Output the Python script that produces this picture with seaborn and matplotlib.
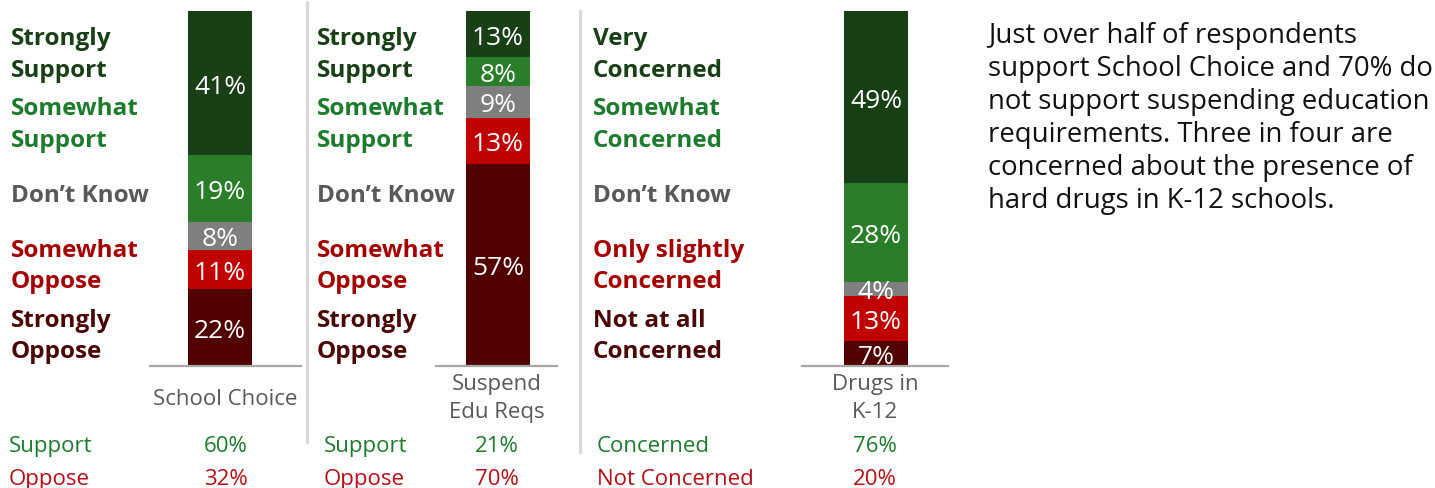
import numpy as np
import pandas as pd
import matplotlib
matplotlib.use("Agg")
import matplotlib.pyplot as plt
from matplotlib.lines import Line2D
import seaborn as sns

# ---------------- data ----------------
questions = ["School Choice", "Suspend\nEdu Reqs", "Drugs in\nK-12"]
segments = ["Strongly Support", "Somewhat Support", "Don't Know",
            "Somewhat Oppose", "Strongly Oppose"]          # top -> bottom
school_choice = [41, 19, 8, 11, 22]
suspend_edu = [13, 8, 9, 13, 57]
drugs_k12 = [49, 28, 4, 13, 7]
panel_values = [school_choice, suspend_edu, drugs_k12]

support_scale = ["Strongly\nSupport", "Somewhat\nSupport", "Don’t Know",
                 "Somewhat\nOppose", "Strongly\nOppose"]
concern_scale = ["Very\nConcerned", "Somewhat\nConcerned", "Don’t Know",
                 "Only slightly\nConcerned", "Not at all\nConcerned"]
panel_scales = [support_scale, support_scale, concern_scale]

summary_names = [["Support", "Oppose"], ["Support", "Oppose"],
                 ["Concerned", "Not Concerned"]]
summary_values = [[60, 32], [21, 70], [76, 20]]

paragraph = ["Just over half of respondents",
             "support School Choice and 70% do",
             "not support suspending education",
             "requirements. Three in four are",
             "concerned about the presence of",
             "hard drugs in K-12 schools."]

# ---------------- style ----------------
bar_colors = ["#183F16", "#2A7E2A", "#7F7F7F", "#C00000", "#510000"]
label_colors = ["#183F16", "#1E7B2E", "#595959", "#A50000", "#4B0707"]
summary_colors = ["#1E7B2E", "#B40F17"]

sns.set_theme(style="white")
plt.rcParams["font.family"] = ["Open Sans", "DejaVu Sans"]

W, H = 1435, 489
fig = plt.figure(figsize=(W / 100, H / 100), dpi=100)


def fx(px):
    return px / W


def fy(py):
    return 1 - py / H


# layout per panel (pixels)
base_left = [150, 436, 802]
base_right = [301, 557, 948]
bar_center = [220, 498, 876]
bar_w = 64
bar_top, bar_bot = 12, 367
label_x = [11, 317, 593]
summary_x = [9, 324, 597]
label_baselines = [[45, 77], [115, 147], [202], [257, 288], [327, 358]]

for i in range(3):
    vals = panel_values[i]
    df = pd.DataFrame({"question": [questions[i]] * len(segments),
                       "segment": segments,
                       "value": vals})
    df["cum"] = df["value"][::-1].cumsum()
    total = df["value"].sum()

    ax = fig.add_axes([fx(base_left[i]), fy(bar_bot),
                       fx(base_right[i] - base_left[i]), (bar_bot - bar_top) / H])
    sns.barplot(data=df, x="question", y="cum", hue="segment",
                hue_order=segments, palette=bar_colors, dodge=False,
                width=1.0, saturation=1, legend=False, errorbar=None,
                linewidth=0, ax=ax)
    ax.set_ylim(0, total)
    ax.set_xlim(-(bar_center[i] - base_left[i]) / bar_w,
                (base_right[i] - bar_center[i]) / bar_w)
    ax.set_xticks([])
    ax.set_yticks([])
    ax.set_xlabel("")
    ax.set_ylabel("")
    for s in ["top", "left", "right"]:
        ax.spines[s].set_visible(False)
    ax.spines["bottom"].set_color("#A6A6A6")
    ax.spines["bottom"].set_linewidth(1.6)
    ax.patch.set_alpha(0)

    # percentage labels in segments
    for _, row in df.iterrows():
        ax.text(0, row["cum"] - row["value"] / 2, f"{row['value']}%",
                ha="center", va="center_baseline", color="white",
                fontsize=19)

    # category name under bar
    cx = (base_left[i] + base_right[i]) / 2
    qlines = questions[i].split("\n")
    qbase = [405] if len(qlines) == 1 else [390, 418]
    for line, b in zip(qlines, qbase):
        fig.text(fx(cx), fy(b), line, ha="center", va="baseline",
                 color="#595959", fontsize=16)

    # scale labels on the left
    for lab, col, bases in zip(panel_scales[i], label_colors, label_baselines):
        for line, b in zip(lab.split("\n"), bases):
            fig.text(fx(label_x[i]), fy(b), line, ha="left", va="baseline",
                     color=col, fontsize=17.5, fontweight="bold")

    # summary rows
    for name, v, col, b in zip(summary_names[i], summary_values[i],
                               summary_colors, [452, 485]):
        fig.text(fx(summary_x[i]), fy(b), name, ha="left", va="baseline",
                 color=col, fontsize=16)
        fig.text(fx(cx), fy(b), f"{v}%", ha="center", va="baseline",
                 color=col, fontsize=16)

# separators
fig.add_artist(Line2D([fx(307), fx(307)], [fy(3), fy(443)],
                      color="#D9D9D9", linewidth=2.4))
fig.add_artist(Line2D([fx(580), fx(580)], [fy(12), fy(453)],
                      color="#D9D9D9", linewidth=2.4))

# paragraph
for k, line in enumerate(paragraph):
    fig.text(fx(988), fy(43 + 33 * k), line, ha="left", va="baseline",
             color="#111111", fontsize=19.8)

fig.savefig("out.png", dpi=100)
